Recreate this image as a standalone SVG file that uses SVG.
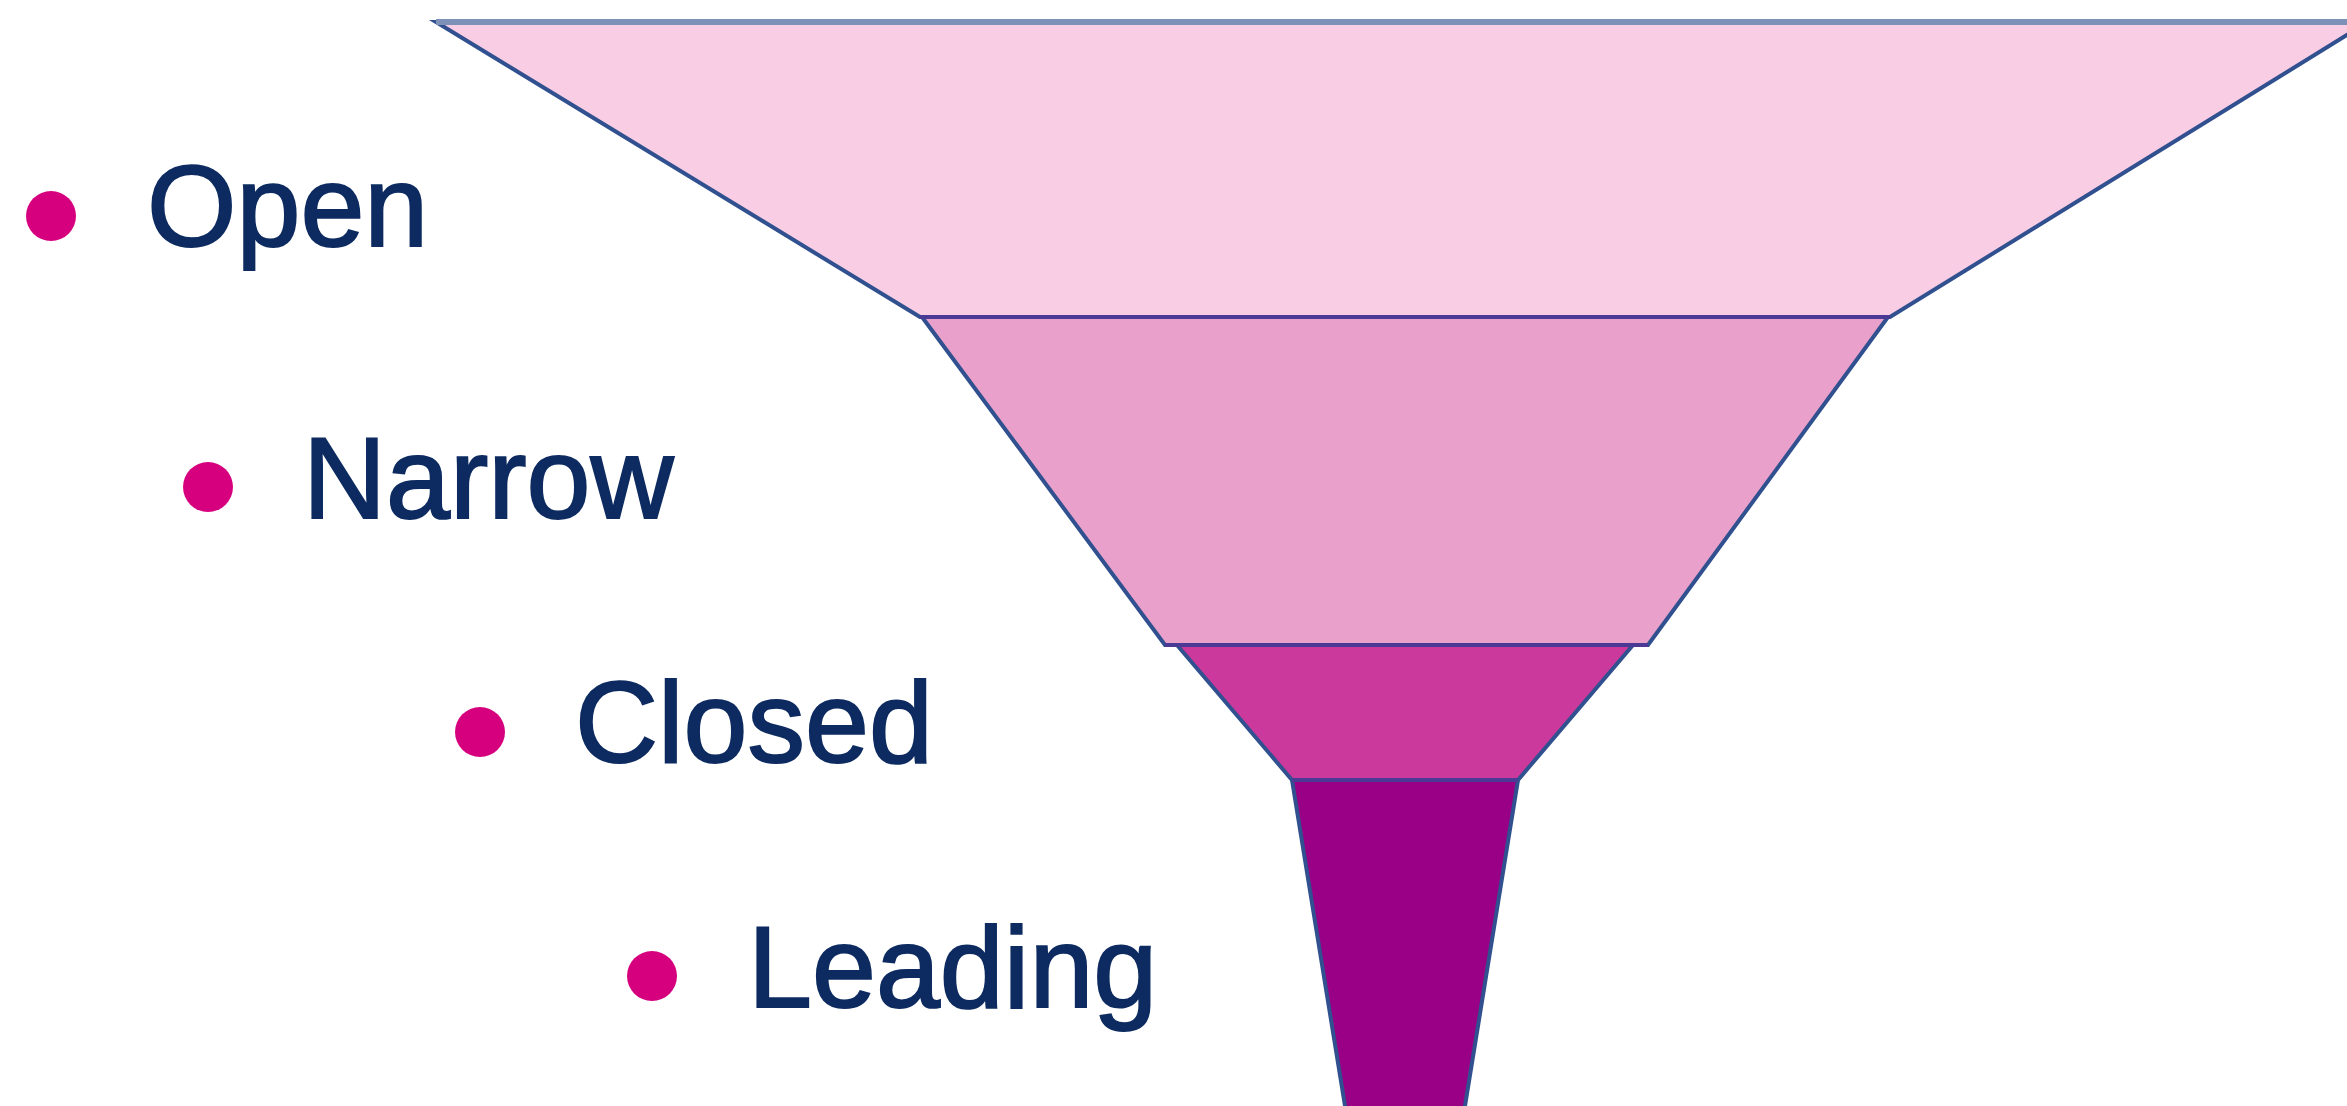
<svg xmlns="http://www.w3.org/2000/svg" width="2347" height="1106" viewBox="0 0 2347 1106">
  <style>
    .label { font-family: "Liberation Sans", Arial, sans-serif; font-size: 115px; fill: #0d2b60; stroke: #0d2b60; stroke-width: 2; }
    .bullet { fill: #d6007f; }
    .tier { stroke: #30508f; stroke-width: 4; stroke-linejoin: miter; }
    .rim { stroke: #7d90b8; stroke-width: 6; fill: none; }
    .sep { stroke: #4a3a95; stroke-width: 4; fill: none; }
  </style>
  <rect x="0" y="0" width="2347" height="1106" fill="#ffffff"/>

  <!-- funnel tiers, widest at the top -->
  <g id="tier-open">
    <polygon class="tier" fill="#f9cee4" points="436,22 2368,22 1890,317 920,317"/>
  </g>
  <g id="tier-narrow">
    <polygon class="tier" fill="#e9a0ca" points="922,317 1888,317 1648,645 1165,645"/>
  </g>
  <g id="tier-closed">
    <polygon class="tier" fill="#cb399d" points="1177,645 1633,645 1518,780 1292,780"/>
  </g>
  <g id="tier-leading">
    <polygon class="tier" fill="#990085" points="1292,780 1518,780 1464,1112 1346,1112"/>
  </g>

  <!-- rim and tier boundary lines -->
  <g id="connectors">
    <line class="rim" x1="436" y1="22" x2="2347" y2="22"/>
    <line class="sep" x1="920" y1="317" x2="1890" y2="317"/>
    <line class="sep" x1="1165" y1="645" x2="1648" y2="645"/>
    <line class="sep" x1="1292" y1="780" x2="1518" y2="780"/>
  </g>

  <!-- bullet list -->
  <g id="item-open">
    <circle class="bullet" cx="51" cy="216" r="25"/>
    <text class="label" x="147" y="246">Open</text>
  </g>
  <g id="item-narrow">
    <circle class="bullet" cx="208" cy="487" r="25"/>
    <text class="label" x="303" y="518">Narrow</text>
  </g>
  <g id="item-closed">
    <circle class="bullet" cx="480" cy="732" r="25"/>
    <text class="label" x="575" y="762">Closed</text>
  </g>
  <g id="item-leading">
    <circle class="bullet" cx="652" cy="976" r="25"/>
    <text class="label" x="748" y="1007">Leading</text>
  </g>
</svg>
